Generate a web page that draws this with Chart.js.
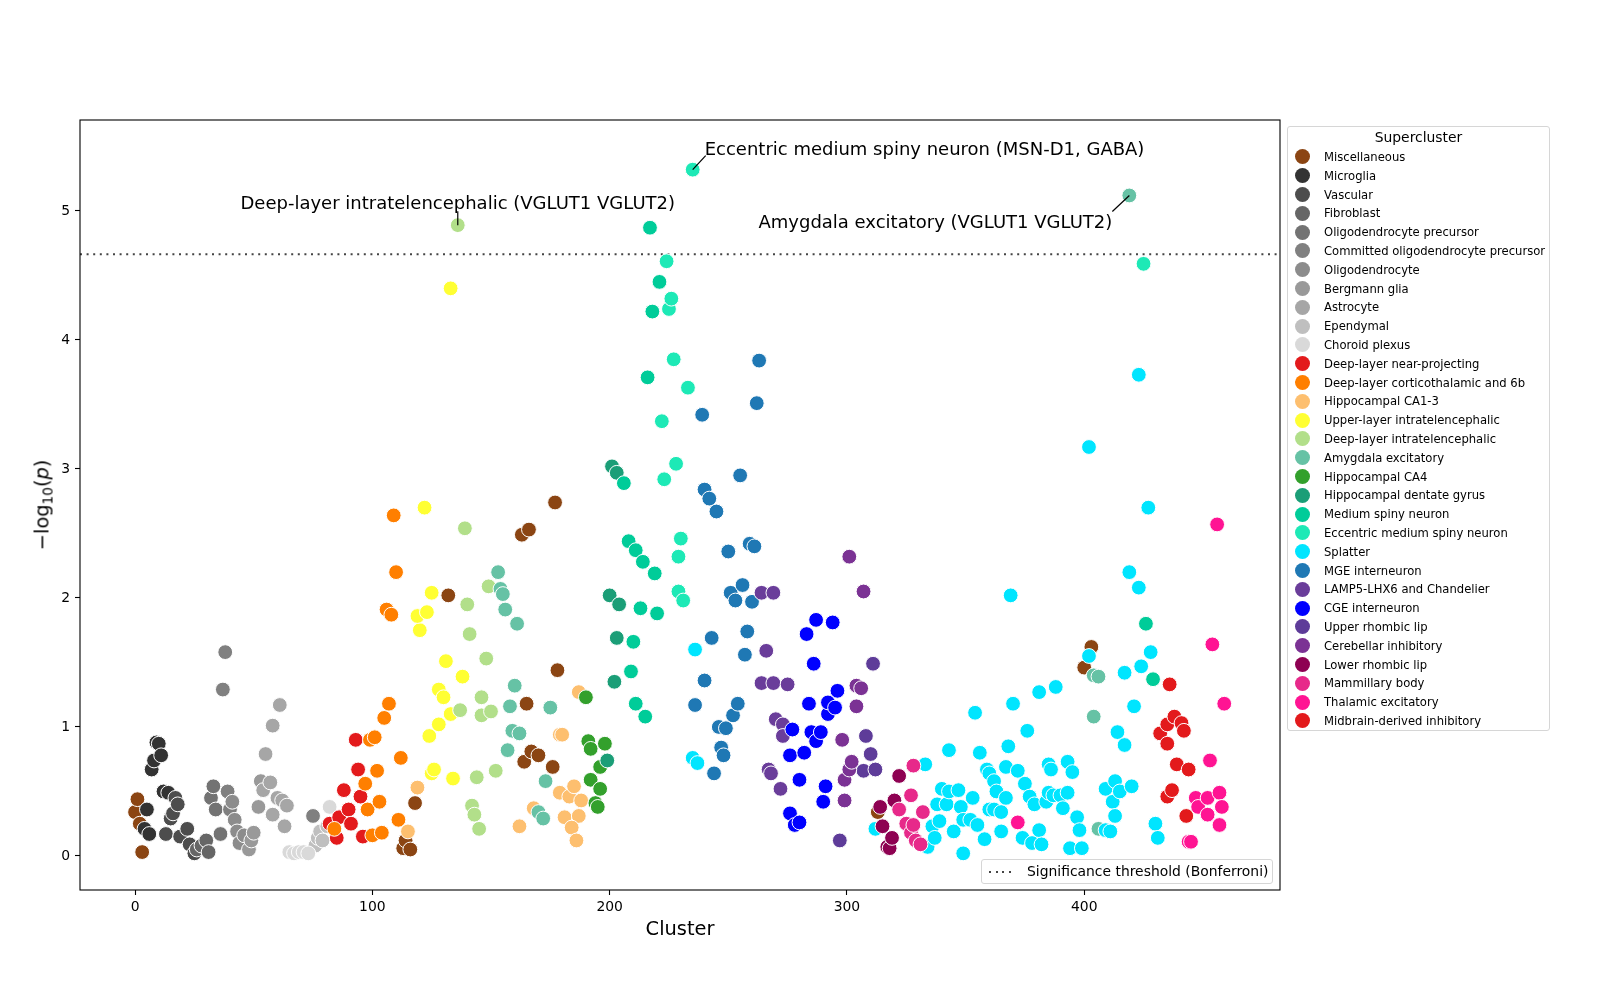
<!DOCTYPE html>
<html>
<head>
<meta charset="utf-8">
<title>Supercluster association</title>
<script src="https://cdn.jsdelivr.net/npm/chart.js@4.4.1/dist/chart.umd.min.js"></script>
<style>
  body { margin: 0; background: #fff; font-family: 'DejaVu Sans', sans-serif; color: #000; }
  #wrap { position: relative; width: 1600px; height: 1000px; }
  #chart { position: absolute; left: 0; top: 0; }
  #ylabel { position: absolute; left: 43px; top: 505px; font-size: 19.4px; white-space: nowrap;
    transform: translate(-50%, -50%) rotate(-90deg); }
  #ylabel sub { font-size: 13.6px; vertical-align: -4px; }
  #xlabel { position: absolute; left: 680px; top: 928px; font-size: 19.4px; transform: translate(-50%, -50%); }
  #legend { position: absolute; left: 1287px; top: 126px; width: 263px; height: 605px; box-sizing: border-box;
    border: 1px solid #d6d6d6; border-radius: 3px; background: #fff; }
  #legend .title { position: absolute; left: 0; right: 0; top: 1px; text-align: center; font-size: 13.9px; line-height: 18px; }
  #legend .row { position: absolute; left: 0; height: 18.8px; display: flex; align-items: center; font-size: 11.6px; white-space: nowrap; }
  #legend .dot { width: 15px; height: 15px; border-radius: 50%; margin-left: 7px; margin-right: 14px; flex: none; }
  #thresh { position: absolute; left: 981px; top: 859px; width: 292px; height: 25px; box-sizing: border-box;
    border: 1px solid #d6d6d6; border-radius: 3px; background: #fff; font-size: 13.9px; }
  #thresh .line { position: absolute; left: 7px; top: 11px; width: 26px; height: 2px;
    background: repeating-linear-gradient(90deg, #444 0 2px, transparent 2px 6.6px); }
  #thresh .txt { position: absolute; left: 45px; top: 0; line-height: 23px; white-space: nowrap; }
</style>
</head>
<body>
<div id="wrap">
  <canvas id="chart" width="1600" height="1000"></canvas>
  <div id="ylabel">−log<sub>10</sub>(<i>p</i>)</div>
  <div id="xlabel">Cluster</div>
  <div id="legend"><div class="title">Supercluster</div></div>
  <div id="thresh"><span class="line"></span><span class="txt">Significance threshold (Bonferroni)</span></div>
</div>
<script>
// superclusters in legend order
const superclusters = [
  'Miscellaneous', 'Microglia', 'Vascular', 'Fibroblast', 'Oligodendrocyte precursor',
  'Committed oligodendrocyte precursor', 'Oligodendrocyte', 'Bergmann glia', 'Astrocyte', 'Ependymal',
  'Choroid plexus', 'Deep-layer near-projecting', 'Deep-layer corticothalamic and 6b', 'Hippocampal CA1-3',
  'Upper-layer intratelencephalic', 'Deep-layer intratelencephalic', 'Amygdala excitatory', 'Hippocampal CA4',
  'Hippocampal dentate gyrus', 'Medium spiny neuron', 'Eccentric medium spiny neuron', 'Splatter',
  'MGE interneuron', 'LAMP5-LHX6 and Chandelier', 'CGE interneuron', 'Upper rhombic lip',
  'Cerebellar inhibitory', 'Lower rhombic lip', 'Mammillary body', 'Thalamic excitatory',
  'Midbrain-derived inhibitory'
]

const colors = [
  '#8b4513', '#333333', '#4d4d4d', '#666666', '#737373',
  '#808080', '#8c8c8c', '#999999', '#a6a6a6', '#bfbfbf',
  '#d9d9d9', '#e31a1c', '#ff7f00', '#fdbf6f',
  '#ffff33', '#b2df8a', '#66c2a5', '#33a02c',
  '#1b9e77', '#00cc99', '#1de9b6', '#00e5ff',
  '#1f78b4', '#6a3d9a', '#0000ff', '#5e3c99',
  '#7b3294', '#8e0152', '#e7298a', '#ff1493',
  '#e31a1c'
]

// [cluster, -log10(p)] per supercluster
const miscellaneous = [[0, 0.34], [1, 0.44], [2, 0.25], [3, 0.03], [113, 0.06], [114, 0.12], [116, 0.05], [118, 0.41], [132, 2.02], [163, 2.49], [166, 2.53], [165, 1.18], [164, 0.73], [167, 0.81], [170, 0.78], [176, 0.69], [177, 2.74], [178, 1.44], [313, 0.34], [400, 1.46], [403, 1.62]]
const microglia = [[4, 0.21], [5, 0.36], [6, 0.17], [7, 0.67], [8, 0.74], [9, 0.88], [10, 0.87], [11, 0.78], [12, 0.50], [14, 0.49]]
const vascular = [[13, 0.17], [15, 0.29], [16, 0.33], [17, 0.45], [18, 0.40], [19, 0.15], [22, 0.21], [23, 0.09], [25, 0.02]]
const fibroblast = [[26, 0.05], [28, 0.08], [30, 0.12], [31, 0.03]]
const opc = [[32, 0.45], [33, 0.54], [34, 0.36], [36, 0.17]]
const cop = [[37, 1.29], [38, 1.58], [39, 0.50], [40, 0.36], [75, 0.31]]
const oligodendrocyte = [[41, 0.42], [42, 0.28], [43, 0.19], [44, 0.10], [46, 0.16]]
const bergmann = [[48, 0.05], [49, 0.12], [50, 0.18], [52, 0.38], [53, 0.58]]
const astrocyte = [[54, 0.51], [55, 0.79], [57, 0.57], [58, 1.01], [58, 0.32], [60, 0.45], [61, 1.17], [62, 0.43], [63, 0.23], [64, 0.39]]
const ependymal = [[76, 0.08], [77, 0.14], [78, 0.19], [79, 0.12], [81, 0.23]]
const choroid = [[65, 0.03], [67, 0.02], [69, 0.03], [71, 0.03], [73, 0.02], [82, 0.38]]
const nearProjecting = [[82, 0.25], [85, 0.14], [86, 0.30], [88, 0.51], [90, 0.36], [91, 0.25], [93, 0.90], [94, 0.67], [95, 0.46], [96, 0.15]]
const corticothalamic = [[84, 0.21], [97, 0.56], [98, 0.36], [99, 0.90], [100, 0.16], [101, 0.92], [102, 0.66], [103, 0.42], [104, 0.18], [105, 1.07], [106, 1.91], [107, 1.18], [108, 1.87], [109, 2.64], [110, 2.20], [111, 0.28], [112, 0.76]]
const ca13 = [[115, 0.19], [119, 0.53], [162, 0.23], [168, 0.37], [179, 0.94], [180, 0.94], [179, 0.49], [183, 0.46], [185, 0.54], [188, 0.43], [181, 0.30], [187, 0.31], [184, 0.22], [186, 0.12], [187, 1.27]]
const upperIT = [[120, 1.75], [119, 1.86], [122, 2.70], [123, 1.89], [124, 0.93], [125, 2.04], [125, 0.64], [126, 0.67], [128, 1.29], [128, 1.02], [130, 1.23], [131, 1.51], [133, 1.10], [133, 4.40], [134, 0.60], [138, 1.39]]
const deepIT = [[136, 4.89], [137, 1.13], [139, 2.54], [140, 1.95], [141, 1.72], [142, 0.39], [143, 0.32], [144, 0.61], [145, 0.21], [146, 1.09], [146, 1.23], [148, 1.53], [149, 2.09], [150, 1.12], [152, 0.66]]
const amygdala = [[153, 2.20], [154, 2.07], [155, 2.03], [156, 1.91], [157, 0.82], [158, 1.16], [159, 0.97], [160, 1.32], [161, 1.80], [162, 0.95], [170, 0.34], [172, 0.29], [173, 0.58], [175, 1.15], [404, 1.40], [406, 1.39], [404, 1.08], [406, 0.21], [419, 5.12]]
const ca4 = [[190, 1.23], [191, 0.89], [192, 0.83], [192, 0.59], [194, 0.41], [195, 0.38], [196, 0.69], [196, 0.52], [198, 0.87]]
const dentateGyrus = [[199, 0.74], [200, 2.02], [201, 3.02], [202, 1.35], [203, 2.97], [203, 1.69], [204, 1.95]]
const msn = [[206, 2.89], [208, 2.44], [209, 1.43], [210, 1.66], [211, 1.18], [211, 2.37], [213, 1.92], [214, 2.28], [215, 1.08], [216, 3.71], [217, 4.87], [218, 4.22], [219, 2.19], [220, 1.88], [221, 4.45], [426, 1.80], [429, 1.37]]
const eccentricMsn = [[222, 3.37], [223, 2.92], [224, 4.61], [225, 4.24], [226, 4.32], [227, 3.85], [228, 3.04], [229, 2.05], [229, 2.32], [230, 2.46], [231, 1.98], [233, 3.63], [235, 5.32], [425, 4.59]]
const splatter = [[235, 0.76], [236, 1.60], [237, 0.72], [312, 0.21], [333, 0.71], [334, 0.07], [336, 0.23], [337, 0.14], [339, 0.27], [340, 0.52], [338, 0.40], [342, 0.40], [343, 0.82], [343, 0.50], [345, 0.19], [347, 0.51], [348, 0.38], [349, 0.02], [349, 0.28], [352, 0.28], [353, 0.45], [354, 1.11], [355, 0.24], [356, 0.80], [358, 0.13], [359, 0.67], [360, 0.36], [360, 0.64], [362, 0.58], [362, 0.36], [363, 0.50], [365, 0.19], [365, 0.34], [367, 0.69], [367, 0.45], [368, 0.85], [369, 2.02], [370, 1.18], [372, 0.66], [374, 0.14], [375, 0.56], [376, 0.97], [377, 0.46], [378, 0.10], [379, 0.40], [381, 0.20], [381, 1.27], [382, 0.09], [384, 0.42], [385, 0.71], [385, 0.49], [386, 0.67], [387, 0.47], [388, 1.31], [390, 0.47], [391, 0.37], [393, 0.49], [393, 0.73], [394, 0.06], [395, 0.65], [397, 0.30], [398, 0.20], [399, 0.06], [402, 3.17], [402, 1.55], [409, 0.20], [409, 0.52], [411, 0.19], [412, 0.42], [413, 0.58], [413, 0.31], [414, 0.96], [415, 0.50], [417, 0.86], [417, 1.42], [419, 2.20], [420, 0.54], [421, 1.16], [423, 2.08], [423, 3.73], [424, 1.47], [427, 2.70], [428, 1.58], [430, 0.25], [431, 0.14]]
const mge = [[236, 1.17], [239, 3.42], [240, 2.84], [240, 1.36], [242, 2.77], [243, 1.69], [244, 0.64], [245, 2.67], [246, 1.00], [247, 0.84], [248, 0.78], [249, 0.99], [250, 2.36], [251, 2.04], [252, 1.09], [253, 1.98], [254, 1.18], [255, 2.95], [256, 2.10], [257, 1.56], [258, 1.74], [259, 2.42], [260, 1.97], [261, 2.40], [262, 3.51], [263, 3.84]]
const lamp5 = [[264, 2.04], [269, 2.04], [264, 1.34], [266, 1.59], [267, 0.67], [268, 0.64], [269, 1.34], [270, 1.06], [272, 0.52], [273, 1.02], [273, 0.93], [275, 1.33]]
const cge = [[276, 0.78], [276, 0.33], [277, 0.98], [278, 0.24], [280, 0.59], [280, 0.26], [282, 0.80], [283, 1.72], [284, 1.18], [285, 0.96], [286, 1.49], [287, 0.89], [287, 1.83], [289, 0.96], [290, 0.42], [291, 0.54], [292, 1.10], [292, 1.19], [294, 1.81], [295, 1.15], [296, 1.28]]
const upperRhombic = [[297, 0.12], [307, 0.66], [308, 0.93], [310, 0.79], [311, 1.49], [312, 0.67]]
const cerebellar = [[298, 0.90], [299, 0.43], [299, 0.59], [301, 0.67], [301, 2.32], [302, 0.73], [304, 1.32], [304, 1.16], [306, 1.30], [307, 2.05]]
const lowerRhombic = [[314, 0.38], [315, 0.23], [317, 0.07], [318, 0.06], [319, 0.14], [320, 0.43], [322, 0.62]]
const mammillary = [[322, 0.36], [325, 0.25], [327, 0.47], [327, 0.18], [328, 0.24], [328, 0.70], [329, 0.12], [331, 0.09], [332, 0.34]]
const thalamic = [[372, 0.26], [444, 0.11], [445, 0.11], [447, 0.45], [448, 0.38], [452, 0.45], [452, 0.32], [453, 0.74], [454, 1.64], [456, 2.57], [457, 0.49], [457, 0.24], [458, 0.38], [459, 1.18]]
const midbrain = [[432, 0.95], [435, 0.87], [435, 1.02], [435, 0.46], [436, 1.33], [437, 0.51], [438, 1.08], [439, 0.71], [441, 1.03], [442, 0.97], [443, 0.31], [444, 0.67]]

const seriesPoints = [
  miscellaneous, microglia, vascular, fibroblast, opc, cop, oligodendrocyte, bergmann, astrocyte,
  ependymal, choroid, nearProjecting, corticothalamic, ca13, upperIT, deepIT, amygdala, ca4,
  dentateGyrus, msn, eccentricMsn, splatter, mge, lamp5, cge, upperRhombic, cerebellar,
  lowerRhombic, mammillary, thalamic, midbrain
]

const xTicks = [0, 100, 200, 300, 400]
const yTicks = [0, 1, 2, 3, 4, 5]
const threshold = 4.665

// labelled clusters: which supercluster, which cluster id
const labels = [
  { group: 'Deep-layer intratelencephalic', cluster: 136, text: 'Deep-layer intratelencephalic (VGLUT1 VGLUT2)' },
  { group: 'Eccentric medium spiny neuron', cluster: 235, text: 'Eccentric medium spiny neuron (MSN-D1, GABA)' },
  { group: 'Amygdala excitatory', cluster: 419, text: 'Amygdala excitatory (VGLUT1 VGLUT2)' }
]
// text placement for each label (pixels from the point)
const labelPlacement = [
  { dx: 0, dy: -21, align: 'center', lx: 0, ly: -14 },
  { dx: 12, dy: -19, align: 'left', lx: 13, ly: -14 },
  { dx: -17, dy: 28, align: 'right', lx: -17, ly: 16 }
]

const FONT = "'DejaVu Sans', sans-serif"

const decorPlugin = {
  id: 'decor',
  beforeDatasetsDraw (chart) {
    const { ctx, chartArea: a, scales } = chart
    const y = scales.y.getPixelForValue(threshold)
    ctx.save()
    ctx.strokeStyle = '#444'
    ctx.lineWidth = 2
    ctx.setLineDash([2, 4.6])
    ctx.beginPath()
    ctx.moveTo(a.left, y)
    ctx.lineTo(a.right, y)
    ctx.stroke()
    ctx.restore()
  },
  afterDatasetsDraw (chart) {
    const { ctx, chartArea: a, scales } = chart
    ctx.save()
    // annotations
    ctx.font = '18px ' + FONT
    ctx.fillStyle = '#000'
    ctx.strokeStyle = '#000'
    ctx.lineWidth = 1.2
    ctx.textBaseline = 'middle'
    labels.forEach((lab, i) => {
      const pts = seriesPoints[superclusters.indexOf(lab.group)]
      const p = pts.find(d => d[0] === lab.cluster)
      const px = scales.x.getPixelForValue(p[0])
      const py = scales.y.getPixelForValue(p[1])
      const pl = labelPlacement[i]
      ctx.beginPath()
      ctx.moveTo(px + pl.lx, py + pl.ly)
      ctx.lineTo(px, py)
      ctx.stroke()
      ctx.textAlign = pl.align
      ctx.fillText(lab.text, px + pl.dx, py + pl.dy)
    })
    // frame
    ctx.lineWidth = 1.1
    ctx.strokeRect(a.left, a.top, a.right - a.left, a.bottom - a.top)
    ctx.restore()
  }
}

const datasets = superclusters.map((name, i) => ({
  label: name,
  data: seriesPoints[i].map(d => ({ x: d[0], y: d[1] })),
  backgroundColor: colors[i],
  borderColor: '#ffffff',
  borderWidth: 1,
  pointRadius: 7.4,
  pointHoverRadius: 7.4,
  order: superclusters.length - i
}))

const tickFont = { family: FONT, size: 13.9 }

new Chart(document.getElementById('chart'), {
  type: 'scatter',
  data: { datasets },
  options: {
    responsive: false,
    animation: false,
    devicePixelRatio: 1,
    layout: { padding: { left: 0, top: 120, right: 320, bottom: 0 } },
    plugins: { legend: { display: false }, tooltip: { enabled: false } },
    scales: {
      x: {
        type: 'linear',
        min: -23.2,
        max: 482.5,
        afterBuildTicks: (scale) => { scale.ticks = xTicks.map(v => ({ value: v })) },
        afterFit: (scale) => { scale.height = 110 },
        grid: { drawOnChartArea: false, drawTicks: true, tickLength: 5, color: '#000', tickWidth: 1.1 },
        border: { display: false },
        ticks: { font: tickFont, color: '#000', padding: 4, maxRotation: 0 }
      },
      y: {
        type: 'linear',
        min: -0.264,
        max: 5.705,
        afterBuildTicks: (scale) => { scale.ticks = yTicks.map(v => ({ value: v })) },
        afterFit: (scale) => { scale.width = 80 },
        grid: { drawOnChartArea: false, drawTicks: true, tickLength: 5, color: '#000', tickWidth: 1.1 },
        border: { display: false },
        ticks: { font: tickFont, color: '#000', padding: 5 }
      }
    }
  },
  plugins: [decorPlugin]
})

// supercluster legend
const legendEl = document.getElementById('legend')
superclusters.forEach((name, i) => {
  const row = document.createElement('div')
  row.className = 'row'
  row.style.top = (30 + 18.8 * i - 9.4) + 'px'
  row.innerHTML = `<span class="dot" style="background:${colors[i]}"></span><span>${name}</span>`
  legendEl.appendChild(row)
})
</script>
</body>
</html>
